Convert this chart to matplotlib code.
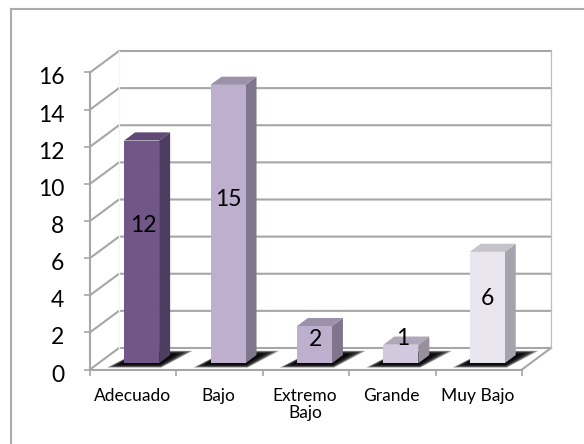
#!/usr/bin/env python3
import matplotlib
matplotlib.use("Agg")
import matplotlib.pyplot as plt
from matplotlib.lines import Line2D
from matplotlib.patches import Polygon
from matplotlib.ticker import FixedLocator, NullFormatter, FixedFormatter
from matplotlib.transforms import ScaledTranslation

categories = ["Adecuado", "Bajo", "Extremo\nBajo", "Grande", "Muy Bajo"]
values = [12, 15, 2, 1, 6]
y_ticks = [0, 2, 4, 6, 8, 10, 12, 14, 16]

front_colors = ["#705788", "#bdafcd", "#bdafcd", "#d2c9de", "#e8e5ee"]
side_colors = ["#4e3d60", "#7f758c", "#7f758c", "#98909f", "#a5a3ad"]
top_colors = ["#5f4a75", "#9d90aa", "#9d90aa", "#b0a7ba", "#c6c3cb"]

# label nudges from the middle of each front face, in points
label_nudge = [(1.5, 19), (0, 18), (0.5, 3.5), (1.5, 11), (0, 6.5)]

GRID = "#a6a6a6"
W, H = 584, 444
PLOT_L, PLOT_R, PLOT_B, PLOT_T = 90, 522, 369.5, 72.5

# pseudo-3d depth: one unit of depth, expressed in data units
DEPTH_X = 29 / ((PLOT_R - PLOT_L) / 5)
DEPTH_Y = 21.5 / ((PLOT_B - PLOT_T) / 16)
BAR_W = 0.405
BAR_D0, BAR_D1 = 0.29, 0.67


def pt(x, y, d=0.0):
    return (x + d * DEPTH_X, y + d * DEPTH_Y)


plt.rcParams["font.family"] = ["Lato", "DejaVu Sans"]
fig = plt.figure(figsize=(W / 100, H / 100), dpi=100)
ax = fig.add_axes([PLOT_L / W, 1 - PLOT_B / H, (PLOT_R - PLOT_L) / W, (PLOT_B - PLOT_T) / H])
ax.patch.set_alpha(0)
n = len(categories)
ax.set_xlim(0, n)
ax.set_ylim(0, y_ticks[-1])

# outer chart frame, only left and top fall inside the canvas
for xs, ys in [((10.5, 10.5), (0, H - 9.5)), ((10.5, W), (H - 9.5, H - 9.5))]:
    fig.add_artist(Line2D([x / W for x in xs], [y / H for y in ys], color="#ababab", lw=1.5))

for s in ("top", "right"):
    ax.spines[s].set_visible(False)
for s in ("left", "bottom"):
    ax.spines[s].set_color(GRID)
    ax.spines[s].set_linewidth(1.5)

ax.set_yticks(y_ticks)
ax.tick_params(axis="y", length=4.5, width=1.2, color=GRID, labelsize=16.5, pad=14, labelcolor="black")
# y labels sit a little under their ticks
shift_down = ScaledTranslation(0, -3.5 / 100, fig.dpi_scale_trans)
for lab in ax.get_yticklabels():
    lab.set_transform(lab.get_transform() + shift_down)

ax.xaxis.set_major_locator(FixedLocator(list(range(n + 1))))
ax.xaxis.set_major_formatter(NullFormatter())
ax.xaxis.set_minor_locator(FixedLocator([i + 0.49 for i in range(n)]))
ax.xaxis.set_minor_formatter(FixedFormatter(categories))
ax.tick_params(axis="x", which="major", length=4, width=1.2, color=GRID)
ax.tick_params(axis="x", which="minor", length=0, labelsize=12.5, pad=13)
for lab in ax.xaxis.get_minorticklabels():
    lab.set_verticalalignment("top")
    lab.set_linespacing(1.1)

# walls and floor
for v in y_ticks:
    line = [pt(0, v), pt(0, v, 1), pt(n, v, 1)]
    ax.plot(*zip(*line), color=GRID, lw=1.5, clip_on=False, zorder=1, solid_joinstyle="miter")
ax.plot(*zip(pt(n, 0), pt(n, 0, 1)), color=GRID, lw=1.5, clip_on=False, zorder=1)
ax.plot(*zip(pt(n, 0, 1), pt(n, y_ticks[-1], 1)), color="#bdbdbd", lw=0.9, clip_on=False, zorder=1)
ax.plot(*zip(pt(0, 0, 1), pt(0, y_ticks[-1], 1)), color="#f5f5f5", lw=0.9, clip_on=False, zorder=1)

for i, v in enumerate(values):
    x0 = i + 0.5 - BAR_W / 2
    x1 = x0 + BAR_W

    # soft drop shadow on the floor
    for k in range(8):
        grow = 0.13 - k * 0.016
        dg = 0.2 - k * 0.025
        shadow = [pt(x0 - grow, 0, BAR_D0 - dg), pt(x1 + grow * 0.7, 0, BAR_D0 - dg),
                  pt(x1 + grow * 1.5, 0, BAR_D1 + dg), pt(x0 - grow * 0.1, 0, BAR_D1 + dg)]
        ax.add_patch(Polygon(shadow, closed=True, fc="black", ec="none", alpha=0.36,
                             clip_on=False, zorder=2))

    front = [pt(x0, 0, BAR_D0), pt(x1, 0, BAR_D0), pt(x1, v, BAR_D0), pt(x0, v, BAR_D0)]
    side = [pt(x1, 0, BAR_D0), pt(x1, 0, BAR_D1), pt(x1, v, BAR_D1), pt(x1, v, BAR_D0)]
    top = [pt(x0, v, BAR_D0), pt(x1, v, BAR_D0), pt(x1, v, BAR_D1), pt(x0, v, BAR_D1)]
    ax.add_patch(Polygon(side, closed=True, fc=side_colors[i], ec="none", clip_on=False, zorder=3))
    ax.add_patch(Polygon(top, closed=True, fc=top_colors[i], ec="none", clip_on=False, zorder=3))
    ax.add_patch(Polygon(front, closed=True, fc=front_colors[i], ec="none", clip_on=False, zorder=4))

    ax.annotate(str(v), xy=pt((x0 + x1) / 2, v / 2, BAR_D0), xytext=label_nudge[i],
                textcoords="offset points", ha="center", va="center", fontsize=16.5,
                color="black", zorder=5, annotation_clip=False)

fig.savefig("out.png", dpi=100)
